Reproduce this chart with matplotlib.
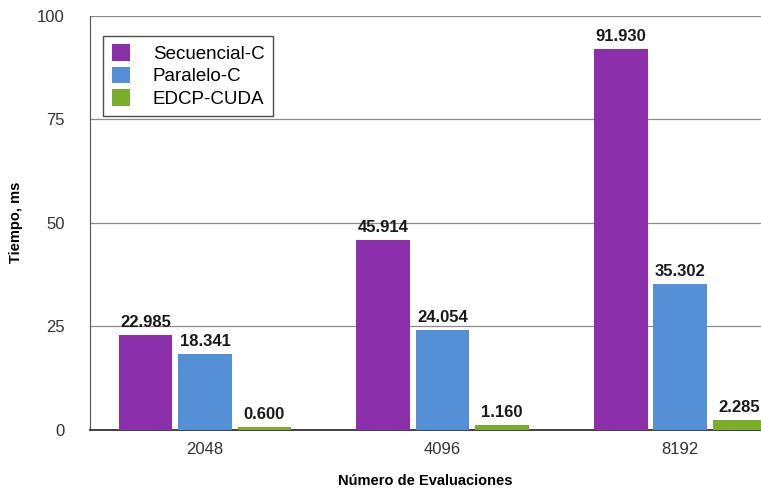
import numpy as np
import matplotlib.pyplot as plt

plt.rcParams['font.family'] = ['Liberation Sans', 'DejaVu Sans']

evaluaciones = ["2048", "4096", "8192"]
series = ["Secuencial-C", "Paralelo-C", "EDCP-CUDA"]
secuencial = [22.985, 45.914, 91.930]
paralelo = [18.341, 24.054, 35.302]
cuda = [0.600, 1.160, 2.285]
colores = ["#8b2fab", "#5590d6", "#7aad2c"]

fig = plt.figure(figsize=(7.61, 4.94), dpi=100)
ax = fig.add_axes([0.118, 0.13, 0.882, 0.838])

x = np.arange(len(evaluaciones))
ancho = 0.225
offsets = [-0.25, 0.0, 0.25]
for datos, nombre, color, off in zip([secuencial, paralelo, cuda], series, colores, offsets):
    barras = ax.bar(x + off, datos, ancho, color=color, label=nombre, zorder=3)
    for b, v in zip(barras, datos):
        ax.text(b.get_x() + b.get_width() / 2, v + 1.2, f"{v:.3f}",
                ha="center", va="bottom", fontsize=12, fontweight="bold",
                color="#1a1a1a", zorder=4)

ax.set_xlim(-0.485, 2.34)
ax.set_ylim(0, 100)
ax.set_yticks([0, 25, 50, 75, 100])
ax.set_xticks(x)
ax.set_xticklabels(evaluaciones)
ax.tick_params(length=0, labelsize=12, colors="#333333", pad=9)
ax.tick_params(axis="y", pad=18)
ax.grid(axis="y", color="#8c8c8c", linewidth=0.9, zorder=0)

for lado in ["top", "right"]:
    ax.spines[lado].set_visible(False)
ax.spines["left"].set_color("#555555")
ax.spines["bottom"].set_color("#333333")
ax.spines["bottom"].set_linewidth(1.3)

ax.set_ylabel("Tiempo, ms", fontsize=10.5, fontweight="bold", labelpad=10)
ax.set_xlabel("Número de Evaluaciones", fontsize=10.5, fontweight="bold", labelpad=12)

leg = ax.legend(loc="upper left", bbox_to_anchor=(0.02, 0.952), fontsize=13.5,
                frameon=True, fancybox=False, handlelength=1.0, handleheight=1.0,
                handletextpad=1.2, labelspacing=0.2, borderpad=0.45,
                borderaxespad=0)
leg.get_frame().set_edgecolor("#222222")
leg.get_frame().set_linewidth(1.0)
# widen the frame a little past the text, as in a slide-style legend
fig.canvas.draw()
bb = leg.get_frame().get_bbox()
leg.get_frame().set_width(bb.width + 22)
leg.get_frame().set_x(bb.x0)

fig.savefig("out.png", dpi=100)
